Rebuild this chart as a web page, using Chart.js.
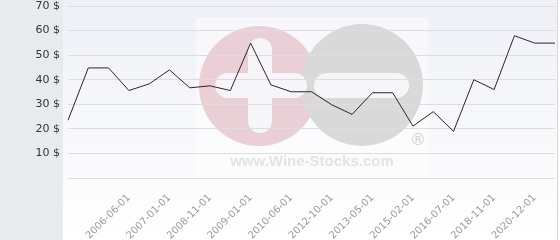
<!DOCTYPE html>
<html>
<head>
<meta charset="utf-8">
<script src="https://cdn.jsdelivr.net/npm/chart.js@4/dist/chart.umd.min.js"></script>
<style>
  html, body { margin: 0; padding: 0; background: #fff; }
  #wrap { width: 560px; height: 240px; position: relative; }
</style>
</head>
<body>
<div id="wrap"><canvas id="chartPrecio"></canvas></div>
<script>
// ── Datos ────────────────────────────────────────────
const fechas = [
  '', '', '', '2006-06-01', '', '2007-01-01', '', '2008-11-01', '', '2009-01-01',
  '', '2010-06-01', '', '2012-10-01', '', '2013-05-01', '', '2015-02-01', '',
  '2016-07-01', '', '2018-11-01', '', '2020-12-01', ''
];
const precios = [
  23.5, 44.8, 44.8, 35.6, 38.3, 44.0, 36.7, 37.5, 35.6, 54.9,
  37.9, 35.1, 35.1, 29.8, 25.9, 34.7, 34.7, 21.1, 27.0, 19.0,
  40.0, 36.0, 57.9, 54.9, 54.9
];
const ticksY = [10, 20, 30, 40, 50, 60, 70];

// ── Fondo + marca de agua ────────────────────────────
const fondo = {
  id: 'fondo',
  beforeDraw(chart) {
    const { ctx, chartArea: a, height } = chart;
    ctx.save();
    ctx.fillStyle = '#e7ebee';
    ctx.fillRect(0, 0, a.left - 5, height);
    const g = ctx.createLinearGradient(0, 0, 0, height);
    g.addColorStop(0, '#eff0f6');
    g.addColorStop(1, '#ffffff');
    ctx.fillStyle = g;
    ctx.fillRect(a.left - 5, 0, a.right + 2 - (a.left - 5), height);
    ctx.fillStyle = '#d6d6d6';
    ctx.fillRect(a.right + 2, 0, 1, height);

    // recuadro blanco del logo
    ctx.fillStyle = 'rgba(255,255,255,0.45)';
    ctx.fillRect(196, 18, 232, 157);

    // círculos
    ctx.fillStyle = '#eacfd6';
    ctx.beginPath(); ctx.arc(259, 86, 60, 0, Math.PI * 2); ctx.fill();
    ctx.fillStyle = '#d9d9da';
    ctx.beginPath(); ctx.arc(362, 85, 61, 0, Math.PI * 2); ctx.fill();

    // cruz y barra blancas
    ctx.fillStyle = '#f6f6f8';
    const barra = (x, y, w, h) => {
      const r = Math.min(w, h) / 2;
      ctx.beginPath(); ctx.roundRect(x, y, w, h, r); ctx.fill();
    };
    barra(248, 38, 24, 95);
    barra(215, 73, 92, 25);
    barra(314, 73, 95, 25);

    ctx.fillStyle = '#e3e3e3';
    ctx.font = 'bold 15px "Liberation Sans"';
    ctx.textAlign = 'center';
    ctx.textBaseline = 'alphabetic';
    ctx.fillText('www.Wine-Stocks.com', 312, 166);
    ctx.fillStyle = '#d2d2d2';
    ctx.font = '16px "DejaVu Sans"';
    ctx.fillText('®', 418, 145);
    ctx.restore();
  }
};

// ── Gráfico ──────────────────────────────────────────
new Chart(document.getElementById('chartPrecio'), {
  type: 'line',
  data: {
    labels: fechas,
    datasets: [{
      data: precios,
      borderColor: '#3a1c2b', borderWidth: 1,
      pointRadius: 0, tension: 0, fill: false
    }]
  },
  options: {
    responsive: true, maintainAspectRatio: false, animation: false,
    layout: { padding: { top: 6, right: 5, left: 0, bottom: 0 } },
    plugins: { legend: { display: false }, tooltip: { enabled: false } },
    scales: {
      y: {
        min: 0, max: 70,
        afterFit: s => { s.width = 68; s.paddingTop = 0; s.paddingBottom = 0; },
        afterBuildTicks: s => { s.ticks = [0, ...ticksY].map(v => ({ value: v })); },
        grid: { color: '#dcdde0', drawTicks: false },
        border: { display: false },
        ticks: {
          padding: 8, color: '#333',
          font: { family: 'DejaVu Sans', size: 11 },
          callback: v => v === 0 ? '' : `${v} $`
        }
      },
      x: {
        afterFit: s => { s.height = 62; s.paddingLeft = 0; s.paddingRight = 0; },
        grid: { display: false },
        border: { display: false },
        ticks: {
          autoSkip: false, minRotation: 45, maxRotation: 45, padding: 6,
          color: '#9a9a9a',
          font: { family: 'DejaVu Sans', size: 10 }
        }
      }
    }
  },
  plugins: [fondo]
});
</script>
</body>
</html>
